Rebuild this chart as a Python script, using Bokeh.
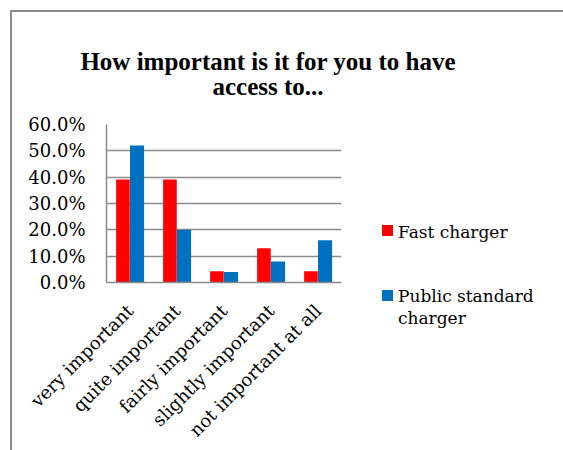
from math import pi
from bokeh.plotting import figure
from bokeh.models import (FactorRange, Range1d, FixedTicker, NumeralTickFormatter,
                          Div, ColumnDataSource)
from bokeh.layouts import row, column
from bokeh.transform import dodge
from bokeh.embed import file_html
from bokeh.resources import INLINE

categories = ["very important", "quite important", "fairly important",
              "slightly important", "not important at all"]
fast_charger = [0.391, 0.391, 0.043, 0.130, 0.043]
public_standard = [0.52, 0.20, 0.04, 0.08, 0.16]
y_ticks = [0.0, 0.1, 0.2, 0.3, 0.4, 0.5, 0.6]
title_lines = ["How important is it for you to have", "access to..."]
series_names = ["Fast charger", "Public standard charger"]
legend_lines = [["Fast charger"], ["Public standard", "charger"]]
series_colors = ["#FF0000", "#0070C0"]

src = ColumnDataSource(dict(cat=categories, fast=fast_charger, pub=public_standard))

# ---- title (HTML block above the chart)
title = Div(text=('<div style="width:512px;font-family:\'Liberation Serif\';'
                  'font-weight:bold;font-size:25px;line-height:25px;'
                  'text-align:center;color:black;padding-top:37px;">'
                  + "<br>".join(title_lines) + "</div>"),
            width=512, height=100, margin=0)

# ---- main chart
p = figure(width=333, height=338, x_range=FactorRange(factors=categories),
           y_range=Range1d(0, 0.6), output_backend="svg", toolbar_location=None,
           min_border_left=94, min_border_right=4, min_border_top=12,
           min_border_bottom=168)
p.title.visible = False
p.outline_line_color = None

p.vbar(x=dodge("cat", -0.15, range=p.x_range), top="fast", width=0.29,
       source=src, fill_color=series_colors[0], line_color=None)
p.vbar(x=dodge("cat", 0.15, range=p.x_range), top="pub", width=0.30,
       source=src, fill_color=series_colors[1], line_color=None)

p.yaxis.ticker = FixedTicker(ticks=y_ticks)
p.yaxis.formatter = NumeralTickFormatter(format="0.0%")
for ax in (p.xaxis[0], p.yaxis[0]):
    ax.axis_line_color = "#8c8c8c"
    ax.axis_line_width = 1.5
    ax.major_tick_out = 0
    ax.major_tick_in = 0
    ax.minor_tick_out = 0
    ax.minor_tick_in = 0
    ax.major_label_text_font = "DejaVu Serif"
    ax.major_label_text_font_size = "18px"
    ax.major_label_text_color = "black"
p.yaxis.major_label_standoff = 21
p.xaxis.major_label_orientation = pi / 4
p.xaxis.major_label_standoff = 25

p.xgrid.grid_line_color = None
p.ygrid.grid_line_color = "#8c8c8c"
p.ygrid.grid_line_width = 1.5

# ---- legend (HTML block to the right of the chart)
sq_tops = [113, 178]
txt_tops = [[110], [174, 196]]
parts = ['<div style="position:relative;width:218px;height:338px;'
         'font-family:\'DejaVu Serif\';font-size:17px;line-height:20px;color:black;">']
for color, lines, st, tts in zip(series_colors, legend_lines, sq_tops, txt_tops):
    parts.append('<div style="position:absolute;left:37px;top:%dpx;width:11px;'
                 'height:11px;background:%s;"></div>' % (st, color))
    for line, tt in zip(lines, tts):
        parts.append('<div style="position:absolute;left:53px;top:%dpx;'
                     'white-space:nowrap;">%s</div>' % (tt, line))
parts.append("</div>")
legend_div = Div(text="".join(parts), width=218, height=338, margin=0)

layout = column(title, row(p, legend_div),
                styles={"margin-left": "10px", "margin-top": "10px",
                        "border-left": "2px solid #8c8c8c",
                        "border-top": "2px solid #8c8c8c"})

open("out.html", "w").write(file_html(layout, INLINE))
